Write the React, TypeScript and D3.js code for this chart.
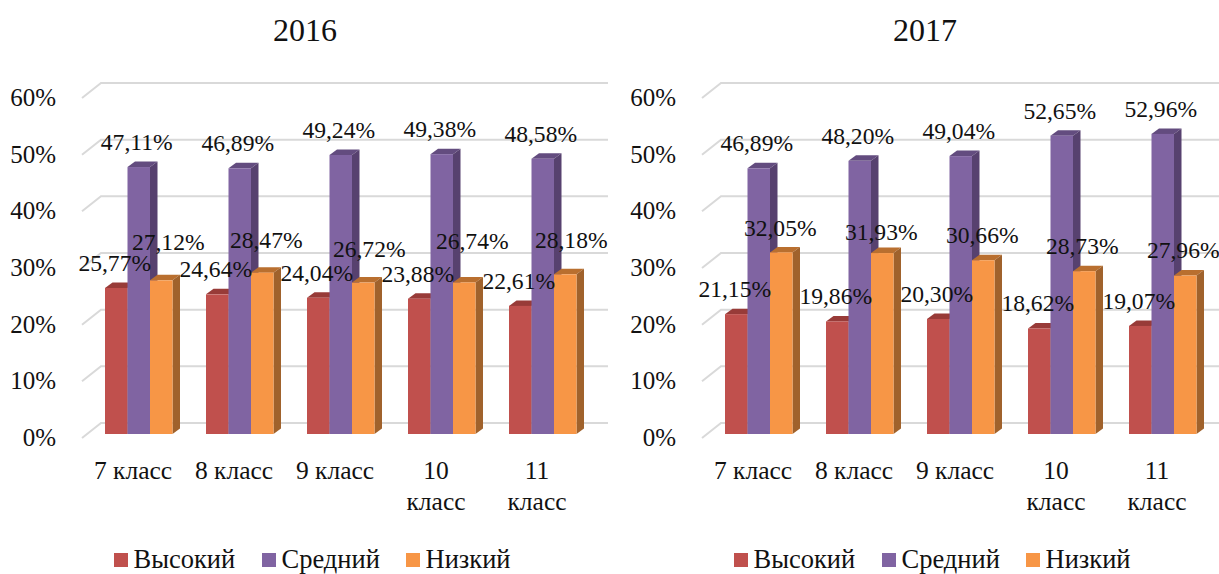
import React from 'react';
import * as d3 from 'd3';

const categories = ['7 класс', '8 класс', '9 класс', '10 класс', '11 класс'];
const seriesNames = ['Высокий', 'Средний', 'Низкий'];
const y2016High = [25.77, 24.64, 24.04, 23.88, 22.61];
const y2016Mid = [47.11, 46.89, 49.24, 49.38, 48.58];
const y2016Low = [27.12, 28.47, 26.72, 26.74, 28.18];
const y2017High = [21.15, 19.86, 20.3, 18.62, 19.07];
const y2017Mid = [46.89, 48.2, 49.04, 52.65, 52.96];
const y2017Low = [32.05, 31.93, 30.66, 28.73, 27.96];
const ticks = [0, 10, 20, 30, 40, 50, 60];

// hand-placed label nudges of the orange series (as in the source chart)
const low2016Nudge = [[7, 30], [4, 25], [6, 26], [8, 33], [6, 26]];
const low2017Nudge = [[-1, 16], [-1, 13], [-1, 17], [-2, 17], [-2, 18]];

const faces = [
  { front: '#C0504D', top: '#983B38', side: '#8E3A38' },
  { front: '#8064A2', top: '#634C7F', side: '#57416F' },
  { front: '#F79646', top: '#B96F2F', side: '#A0622C' },
];
const FONT = '"Liberation Serif", "Times New Roman", serif';
const DX = 7.5, DY = 5.5;

const fmt = (v: number) => v.toFixed(2).replace('.', ',') + '%';

function Panel({ title, series, ox, nudge }: { title: string; series: number[][]; ox: number; nudge: number[][] }) {
  const y = d3.scaleLinear().domain([0, 60]).range([434, 94]);
  const x = d3.scaleBand().domain(categories).range([ox + 88, ox + 593]);
  const barW = 22.5;
  const groupLeft = (c: string) => x(c)! + 17;
  const wall = { dx: 19, dy: 15 };
  const y0 = (t: number) => y(t) + 4;
  return (
    <g>
      <text x={ox + 305} y={41} fontSize={32} textAnchor="middle" fontFamily={FONT} fill="#111">{title}</text>
      {ticks.map(t => (
        <g key={t}>
          <path d={`M${ox + 82},${y0(t)}L${ox + 82 + wall.dx},${y0(t) - wall.dy}L${ox + 608},${y0(t) - wall.dy}`} fill="none" stroke="#D9D9D9" strokeWidth={2} />
          <text x={ox + 56} y={y0(t) + 8} fontSize={25} textAnchor="end" fontFamily={FONT} fill="#111">{t}%</text>
        </g>
      ))}
      {categories.map((c, i) => series.map((s, k) => {
        const left = groupLeft(c) + k * barW;
        const top = y(s[i]);
        const base = y(0);
        const f = faces[k];
        return (
          <g key={c + k}>
            <path d={`M${left},${top}L${left + DX},${top - DY}L${left + barW + DX},${top - DY}L${left + barW},${top}Z`} fill={f.top} />
            <path d={`M${left + barW},${top}L${left + barW + DX},${top - DY}L${left + barW + DX},${base - DY}L${left + barW},${base}Z`} fill={f.side} />
            <rect x={left} y={top} width={barW} height={base - top} fill={f.front} />
          </g>
        );
      }))}
      {categories.map((c, i) => series.map((s, k) => {
        const barC = groupLeft(c) + k * barW + barW / 2;
        const cx = k === 0 ? barC - 1.5 : k === 1 ? barC - 2 : barC + nudge[i][0];
        const ly = y(s[i]) - (k === 2 ? nudge[i][1] : 17);
        return (
          <text key={c + k} x={cx} y={ly} fontSize={23.6} textAnchor="middle" fontFamily={FONT} fill="#111">{fmt(s[i])}</text>
        );
      }))}
      {categories.map(c => {
        const cx = groupLeft(c) + 28;
        const parts = c.startsWith('1') ? c.split(' ') : [c];
        return parts.map((p, j) => (
          <text key={c + j} x={cx} y={479 + j * 31} fontSize={25.5} textAnchor="middle" fontFamily={FONT} fill="#111">{p}</text>
        ));
      })}
      {seriesNames.map((n, k) => {
        const lx = ox + [114, 262, 406][k];
        return (
          <g key={n}>
            <rect x={lx} y={553} width={14} height={14} fill={faces[k].front} />
            <text x={lx + 19.5} y={568} fontSize={26.5} fontFamily={FONT} fill="#111">{n}</text>
          </g>
        );
      })}
    </g>
  );
}

export default function App() {
  return (
    <svg width={1219} height={574} style={{ position: 'absolute', left: 0, top: 0, background: '#fff' }}>
      <Panel title="2016" series={[y2016High, y2016Mid, y2016Low]} ox={0} nudge={low2016Nudge} />
      <Panel title="2017" series={[y2017High, y2017Mid, y2017Low]} ox={620} nudge={low2017Nudge} />
    </svg>
  );
}
